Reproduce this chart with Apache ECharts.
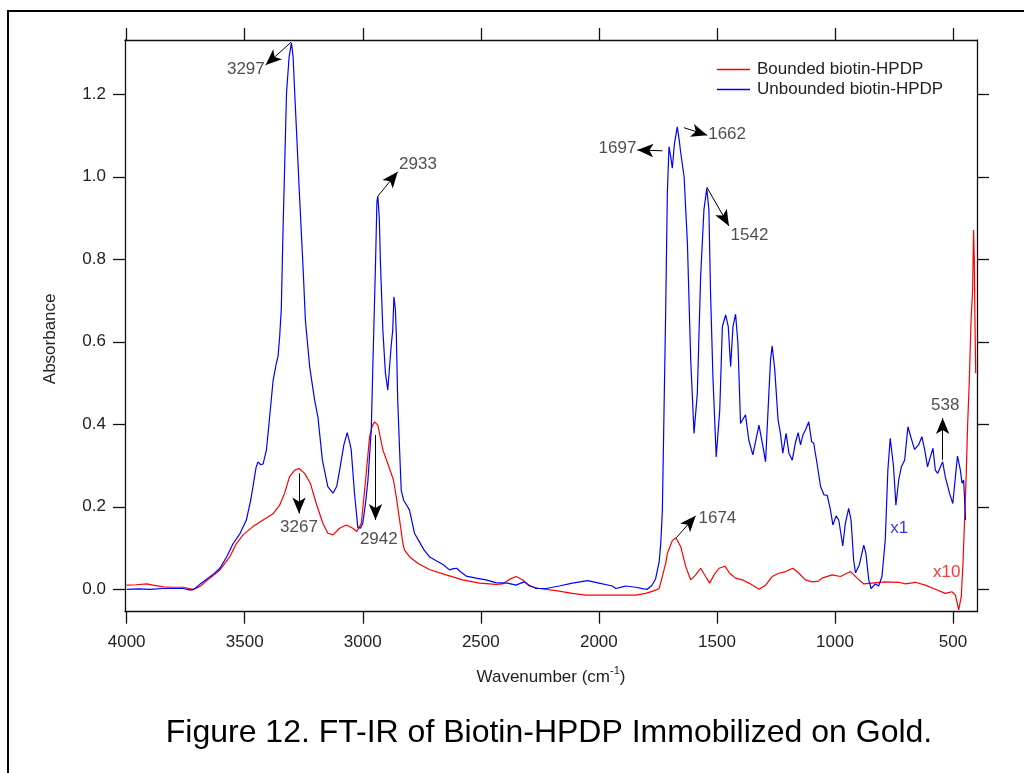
<!DOCTYPE html>
<html><head><meta charset="utf-8">
<script src="https://cdn.jsdelivr.net/npm/echarts@6/dist/echarts.min.js"></script>
<style>html,body{margin:0;padding:0;background:#fff}#c{width:1024px;height:773px}</style>
</head><body><div id="c"></div>
<script>
// ---- data ----
const xTicks = [500, 1000, 1500, 2000, 2500, 3000, 3500, 4000];
const yTicks = [0, 0.2, 0.4, 0.6, 0.8, 1.0, 1.2];

const unboundedWn = [4000,3950,3900,3850,3800,3760,3730,3715,3690,3660,3630,3605,3575,3549,3520,3493,3475,3465,3452,3444,3432,3422,3408,3397,3380,3366,3359,3352,3345,3338,3323,3312,3302,3295,3288,3267,3253,3243,3225,3204,3190,3171,3148,3126,3110,3098,3080,3066,3055,3049,3035,3021,3010,3000,2988,2978,2964,2957,2950,2946,2940,2936,2930,2925,2915,2904,2894,2880,2873,2868,2862,2858,2852,2844,2837,2827,2815,2802,2781,2760,2740,2718,2689,2660,2633,2615,2602,2585,2562,2520,2478,2436,2387,2351,2330,2316,2295,2266,2224,2168,2112,2048,1999,1943,1928,1900,1886,1844,1810,1795,1775,1760,1745,1738,1731,1724,1717,1710,1703,1696,1689,1680,1668,1660,1653,1639,1625,1611,1597,1583,1569,1555,1543,1534,1527,1517,1503,1488,1477,1463,1452,1442,1432,1421,1411,1400,1393,1379,1365,1348,1322,1305,1294,1280,1273,1266,1255,1241,1231,1221,1207,1195,1181,1168,1156,1146,1136,1125,1111,1099,1090,1076,1061,1047,1033,1019,1009,995,984,967,956,942,932,921,913,897,878,869,857,847,829,815,801,787,776,766,759,752,742,730,719,705,691,677,663,646,632,620,608,596,585,575,565,554,544,533,515,501,490,481,469,462,455,451,447];
const unboundedAbs = [0.000,0.001,0.000,0.002,0.002,0.002,-0.002,0.000,0.012,0.025,0.038,0.051,0.080,0.111,0.135,0.168,0.215,0.249,0.295,0.309,0.302,0.304,0.338,0.402,0.505,0.548,0.564,0.612,0.680,0.863,1.202,1.290,1.325,1.290,1.202,0.944,0.782,0.653,0.540,0.459,0.418,0.313,0.249,0.233,0.250,0.289,0.350,0.380,0.355,0.338,0.233,0.150,0.148,0.160,0.210,0.265,0.386,0.548,0.700,0.790,0.940,0.953,0.900,0.790,0.629,0.524,0.483,0.588,0.629,0.709,0.680,0.621,0.459,0.338,0.240,0.216,0.205,0.192,0.136,0.115,0.095,0.079,0.069,0.060,0.047,0.050,0.051,0.042,0.032,0.027,0.023,0.016,0.015,0.010,0.015,0.018,0.010,0.002,0.002,0.008,0.015,0.021,0.015,0.008,0.002,0.006,0.008,0.005,0.001,0.000,0.010,0.025,0.065,0.110,0.192,0.435,0.677,0.960,1.073,1.050,1.021,1.080,1.121,1.090,1.057,1.000,0.839,0.556,0.378,0.475,0.758,0.920,0.972,0.920,0.718,0.515,0.321,0.435,0.637,0.665,0.637,0.540,0.637,0.667,0.596,0.402,0.398,0.423,0.362,0.326,0.398,0.346,0.309,0.475,0.556,0.590,0.532,0.410,0.378,0.330,0.378,0.330,0.313,0.354,0.380,0.350,0.374,0.386,0.406,0.358,0.354,0.305,0.249,0.229,0.228,0.192,0.156,0.178,0.168,0.105,0.160,0.196,0.168,0.071,0.040,0.059,0.107,0.087,0.023,0.002,0.013,0.008,0.031,0.120,0.289,0.366,0.370,0.297,0.204,0.265,0.297,0.313,0.394,0.366,0.339,0.350,0.370,0.338,0.297,0.321,0.342,0.289,0.281,0.296,0.309,0.273,0.233,0.208,0.273,0.323,0.289,0.257,0.265,0.216,0.168];

const boundedWn = [4000,3960,3915,3888,3845,3803,3761,3718,3700,3683,3648,3605,3563,3535,3507,3465,3422,3380,3352,3331,3310,3288,3270,3246,3222,3197,3169,3148,3126,3098,3070,3042,3025,3006,2988,2971,2960,2950,2936,2915,2894,2870,2858,2844,2830,2823,2802,2767,2718,2647,2577,2506,2436,2408,2379,2351,2323,2295,2253,2182,2112,2055,1943,1844,1801,1759,1745,1735,1717,1710,1689,1674,1653,1632,1611,1590,1569,1548,1531,1512,1491,1466,1446,1421,1393,1364,1322,1294,1266,1238,1209,1178,1153,1125,1097,1069,1055,1012,977,934,906,878,843,787,730,702,660,618,575,533,505,490,476,465,458,451,444,438,431,427,423,417,413,410,407,404];
const boundedAbs = [0.010,0.011,0.013,0.010,0.006,0.005,0.005,0.000,0.004,0.010,0.027,0.047,0.079,0.111,0.132,0.152,0.168,0.183,0.204,0.233,0.273,0.289,0.293,0.281,0.257,0.208,0.160,0.136,0.132,0.148,0.156,0.148,0.140,0.160,0.265,0.370,0.395,0.406,0.398,0.338,0.305,0.265,0.224,0.168,0.111,0.095,0.079,0.063,0.048,0.035,0.023,0.015,0.012,0.013,0.024,0.031,0.023,0.008,0.002,-0.003,-0.010,-0.014,-0.014,-0.014,-0.010,-0.002,0.002,0.023,0.063,0.087,0.118,0.125,0.103,0.055,0.023,0.035,0.051,0.031,0.015,0.035,0.051,0.056,0.039,0.027,0.023,0.015,0.000,0.010,0.031,0.039,0.043,0.051,0.039,0.023,0.018,0.020,0.027,0.035,0.031,0.043,0.027,0.013,0.015,0.018,0.017,0.013,0.017,0.010,0.000,-0.010,-0.006,-0.014,-0.050,-0.018,0.063,0.168,0.281,0.402,0.507,0.588,0.661,0.726,0.871,0.800,0.645,0.524];

// peak annotations: text, arrow start, arrow end, text anchor, text side
const peakLabels = ['3297','2933','1697','1662','1542','3267','2942','1674','538'];
const arrowStart = [[3304,1.326],[2936,0.953],[1731,1.063],[1640,1.119],[1543,0.975],[3270,0.281],[2946,0.374],[1672,0.125],[544,0.314]];
const arrowEnd   = [[3411,1.271],[2852,1.012],[1837,1.065],[1541,1.101],[1449,0.881],[3270,0.184],[2946,0.168],[1590,0.178],[544,0.415]];
const labelAt    = [[3415,1.261],[2846,1.030],[1841,1.068],[1537,1.103],[1442,0.859],[3270,0.150],[2932,0.120],[1578,0.172],[533,0.447]];
const labelSide  = ['left','right','left','right','right','inside','inside','right','inside'];

const scaleLabels = ['x1','x10'];
const scaleAt = [[766,0.149],[585,0.040]];

const seriesNames = ['Bounded biotin-HPDP','Unbounded biotin-HPDP'];
const seriesColors = ['#ff0000','#0000ff'];

// ---- chart ----
const FONT = '"Liberation Sans", Arial, sans-serif';
const TXT = '#222';
const X_MIN = 398.5, X_MAX = 4007, Y_MIN = -0.0543, Y_MAX = 1.3316;

const zip = (a, b) => a.map((v, i) => [v, b[i]]);

const chart = echarts.init(document.getElementById('c'), null, {renderer: 'canvas'});

const axisLineStyle = {color: '#111', width: 1.3};
const tickStyle = {color: '#111', width: 1.3};
const option = {
  animation: false,
  backgroundColor: '#fff',
  textStyle: {fontFamily: FONT},
  grid: {left: 125, top: 40, right: 47, bottom: 161.3, containLabel: false},
  legend: {
    orient: 'vertical', left: 712, top: 56, itemWidth: 33, itemHeight: 1.5, itemGap: 3,
    icon: 'rect', selectedMode: false,
    textStyle: {fontSize: 17, color: TXT, fontFamily: FONT, padding: [0, 0, 0, 2]},
    data: seriesNames
  },
  xAxis: [{
    type: 'value', inverse: true, min: X_MIN, max: X_MAX, position: 'bottom',
    axisLine: {show: true, onZero: false, lineStyle: axisLineStyle},
    axisTick: {show: true, inside: false, length: 12, customValues: xTicks, lineStyle: tickStyle},
    axisLabel: {customValues: xTicks, fontSize: 17, color: TXT, margin: 22, fontFamily: FONT,
      formatter: v => String(v)},
    splitLine: {show: false},
    name: 'Wavenumber (cm{sup|-1})', nameLocation: 'middle', nameGap: 54,
    nameTextStyle: {fontSize: 17, color: TXT, fontFamily: FONT,
      rich: {sup: {fontSize: 11, color: TXT, fontFamily: FONT, padding: [0, 0, 12, 0]}}}
  }, {
    type: 'value', inverse: true, min: X_MIN, max: X_MAX, position: 'top',
    axisLine: {show: true, onZero: false, lineStyle: axisLineStyle},
    axisTick: {show: true, inside: false, length: 12, customValues: xTicks, lineStyle: tickStyle},
    axisLabel: {show: false, customValues: xTicks}, splitLine: {show: false}
  }],
  yAxis: [{
    type: 'value', min: Y_MIN, max: Y_MAX, position: 'left',
    axisLine: {show: true, onZero: false, lineStyle: axisLineStyle},
    axisTick: {show: true, length: 12, customValues: yTicks, lineStyle: tickStyle},
    axisLabel: {customValues: yTicks, fontSize: 17, color: TXT, margin: 19, fontFamily: FONT,
      formatter: v => v.toFixed(1)},
    splitLine: {show: false},
    name: 'Absorbance', nameLocation: 'middle', nameGap: 66, nameRotate: 90,
    nameTextStyle: {fontSize: 17, color: TXT, fontFamily: FONT, padding: [0, 26, 0, 0]}
  }, {
    type: 'value', min: Y_MIN, max: Y_MAX, position: 'right',
    axisLine: {show: true, onZero: false, lineStyle: axisLineStyle},
    axisTick: {show: true, length: 12, customValues: yTicks, lineStyle: tickStyle},
    axisLabel: {show: false, customValues: yTicks}, splitLine: {show: false}
  }],
  series: [
    {
      name: seriesNames[0], type: 'line', data: zip(boundedWn, boundedAbs),
      showSymbol: false, symbol: 'none', color: seriesColors[0],
      lineStyle: {width: 1.2, color: seriesColors[0]}, z: 2
    },
    {
      name: seriesNames[1], type: 'line', data: zip(unboundedWn, unboundedAbs),
      showSymbol: false, symbol: 'none', color: seriesColors[1],
      lineStyle: {width: 1.2, color: seriesColors[1]}, z: 3,
      markLine: {
        silent: true, symbol: ['none', 'arrow'], symbolSize: [10, 16],
        lineStyle: {color: '#000', width: 1, type: 'solid'},
        label: {show: false},
        itemStyle: {color: '#000'},
        data: arrowStart.map((s, i) => [
          {coord: s, symbol: 'none'},
          {coord: arrowEnd[i], symbol: 'arrow'}
        ])
      }
    },
    {
      name: 'peaks', type: 'scatter', silent: true, symbolSize: 0,
      data: labelAt.map((p, i) => ({
        value: p,
        label: {show: true, formatter: peakLabels[i], position: labelSide[i], distance: 0,
          fontSize: 17, color: TXT, fontFamily: FONT}
      })),
      z: 5
    },
    {
      name: 'scales', type: 'scatter', silent: true, symbolSize: 0,
      data: scaleAt.map((p, i) => ({
        value: p,
        label: {show: true, formatter: scaleLabels[i], position: 'right', distance: 0,
          fontSize: 17, color: seriesColors[1 - i], fontFamily: FONT}
      })),
      z: 5
    }
  ],
  graphic: [
    {type: 'rect', shape: {x: 8, y: 11, width: 1040, height: 800},
      style: {fill: 'none', stroke: '#000', lineWidth: 2}, silent: true, z: -1},
    {type: 'text', x: 549, y: 733,
      style: {text: 'Figure 12. FT-IR of Biotin-HPDP Immobilized on Gold.', fontSize: 32,
        fontFamily: FONT, fill: '#000', textAlign: 'center', textVerticalAlign: 'middle'}}
  ]
};
chart.setOption(option);
</script></body></html>
